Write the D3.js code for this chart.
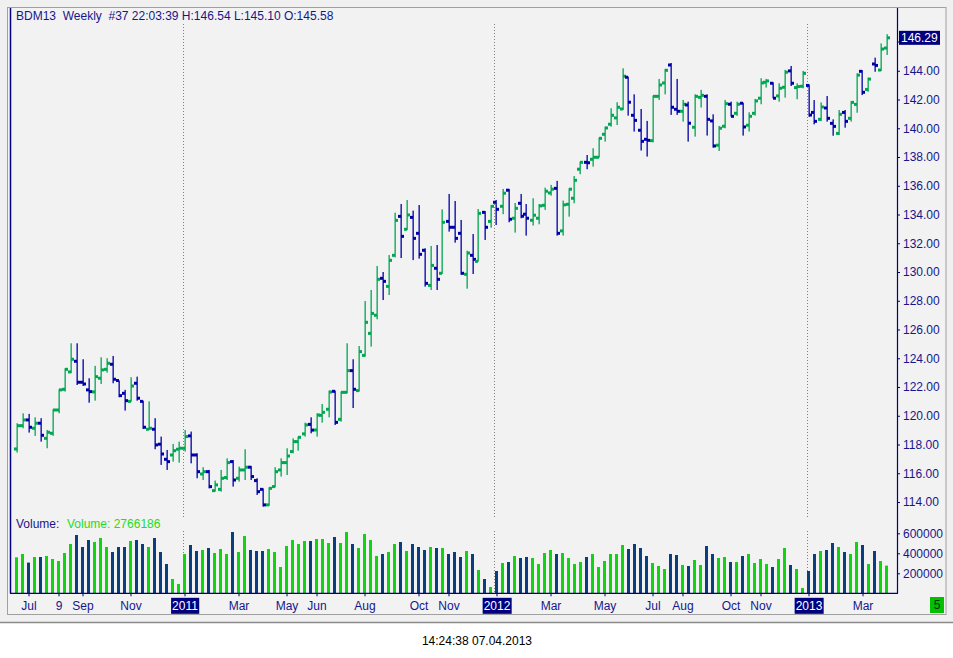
<!DOCTYPE html>
<html>
<head>
<meta charset="utf-8">
<script src="https://cdn.jsdelivr.net/npm/d3@7"></script>
<style>
  body { margin: 0; background: #fff; }
  text { font-family: "Liberation Sans", Arial, sans-serif; font-size: 12px; }
</style>
</head>
<body>
<div id="chart"></div>
<script>
// --- DATA (weekly OHLC + volume) ---
const opens = [
  117.69,119.31,119.71,119.13,119.48,118.43,118.78,120.40,121.84,123.05,
  123.79,122.33,121.80,121.66,122.61,123.23,123.58,122.45,121.56,121.00,
  122.26,121.00,119.06,119.06,118.02,116.97,117.27,117.67,117.74,118.60,
  117.27,115.95,116.11,114.79,114.88,115.70,116.81,115.65,116.23,116.42,
  115.49,114.88,113.80,115.07,116.23,116.74,117.51,118.20,118.74,119.40,
  119.01,120.03,120.45,121.70,119.75,121.63,123.14,121.75,124.20,125.73,
  126.99,129.56,129.00,131.16,133.87,132.97,133.80,132.69,131.51,129.07,
  130.26,129.91,133.52,133.11,132.69,129.84,131.16,130.74,134.15,133.52,
  134.85,134.57,135.69,133.74,134.78,134.02,133.60,133.74,134.64,135.50,
  135.82,132.86,134.71,135.13,137.15,137.63,137.84,137.98,139.58,140.28,
  140.72,141.34,143.55,140.90,139.86,139.23,139.14,142.22,143.15,144.40,
  141.32,141.18,141.62,140.07,142.15,142.22,140.51,138.82,140.14,141.67,
  141.04,141.74,140.21,141.04,142.09,143.20,143.13,142.25,142.85,143.99,
  142.83,142.92,142.98,141.10,140.62,141.41,140.34,139.64,141.10,140.69,
  141.66,143.96,142.70,144.47,144.05,145.58
];
const highs = [
  119.48,120.17,120.13,119.89,119.83,119.01,120.45,121.84,123.30,125.04,
  125.04,123.93,122.61,123.47,124.07,124.00,124.16,122.45,121.80,122.68,
  122.72,121.05,121.00,119.83,118.55,117.62,118.04,118.20,119.01,118.90,
  117.39,116.42,116.23,115.49,116.23,117.04,116.92,116.46,117.67,116.51,
  115.65,114.95,115.02,116.42,117.04,117.74,118.43,118.55,119.52,119.89,
  120.17,120.82,121.75,121.75,121.68,125.04,123.93,124.85,127.98,128.75,
  130.42,130.00,131.18,134.13,134.73,135.01,134.27,134.66,131.65,131.81,
  131.88,134.36,135.43,134.94,133.62,131.48,132.64,134.38,134.24,134.66,
  135.01,135.78,135.78,134.80,135.43,134.73,135.13,134.73,135.87,136.06,
  136.34,134.97,135.82,136.68,137.68,138.14,138.61,139.35,140.11,141.39,
  141.81,144.17,143.59,142.36,141.34,140.51,142.27,143.43,144.13,144.54,
  143.43,141.97,141.85,142.36,142.67,142.36,140.97,140.16,141.97,141.85,
  141.85,141.78,141.11,142.04,143.48,143.43,143.20,143.13,144.06,144.33,
  143.13,143.99,143.05,141.96,141.80,142.24,140.62,141.27,141.27,141.89,
  143.82,144.05,143.52,144.91,145.90,146.54
];
const lows = [
  117.44,119.13,118.83,118.60,118.20,117.74,118.60,120.17,121.68,122.96,
  122.14,122.07,120.91,121.05,122.21,123.00,122.26,121.29,120.36,120.98,
  121.05,119.08,119.01,117.67,116.58,116.23,116.81,116.74,117.51,116.69,
  115.65,115.53,114.95,114.72,114.72,115.53,115.07,115.42,115.53,115.53,
  114.49,113.68,113.73,115.02,115.77,115.88,117.39,117.57,118.55,118.78,
  118.55,119.52,119.89,119.36,119.59,121.56,120.54,121.68,124.11,124.81,
  126.71,128.05,128.40,131.02,130.97,132.92,130.83,130.93,128.98,128.75,
  128.75,129.86,132.81,132.04,129.81,128.84,129.86,130.72,132.23,133.08,
  133.27,134.02,133.46,132.74,133.74,132.53,133.23,133.32,134.32,135.31,
  132.53,132.53,133.85,134.78,136.80,137.15,137.33,137.96,139.07,140.11,
  140.23,141.27,140.88,139.77,138.45,138.03,139.02,141.97,142.36,140.93,
  140.93,140.46,139.07,139.42,141.44,139.49,138.65,138.42,140.00,140.81,
  140.86,139.49,139.77,140.88,141.67,142.83,142.09,141.85,142.13,142.94,
  142.02,142.78,140.80,140.27,140.50,140.46,139.48,139.53,140.04,140.46,
  141.08,142.31,142.54,143.93,143.98,145.10
];
const closes = [
  119.31,119.71,119.20,119.48,118.64,118.85,120.40,121.80,123.23,123.93,
  122.33,122.21,121.68,122.72,123.19,123.65,122.54,121.40,121.05,122.07,
  121.22,119.20,119.13,117.97,117.34,116.81,117.57,117.74,118.55,117.27,
  116.11,116.11,115.07,115.19,115.65,116.74,115.53,116.23,116.42,115.77,
  114.72,113.80,114.95,116.11,116.74,117.20,118.20,118.50,119.36,119.00,
  120.05,120.24,121.65,119.54,121.63,123.14,121.84,124.46,126.50,127.12,
  129.49,129.35,130.81,133.59,132.48,133.97,132.34,131.23,129.21,130.46,
  129.49,133.46,133.11,132.34,129.91,131.32,130.88,134.08,133.11,134.57,
  134.36,135.48,133.67,134.43,133.88,133.74,133.95,134.60,135.62,135.76,
  132.69,134.67,135.76,136.38,137.63,137.60,137.98,139.30,140.02,140.90,
  141.46,143.62,141.81,140.55,139.09,139.16,142.22,143.01,144.03,141.46,
  141.18,141.67,140.35,142.22,142.29,140.62,138.77,140.00,141.71,140.83,
  141.67,140.09,140.83,141.90,143.15,143.29,142.09,142.78,143.90,143.13,
  142.90,143.82,140.92,140.48,141.48,140.69,140.13,140.97,140.48,141.80,
  143.70,142.50,143.42,144.37,145.51,146.29
];
const volumes = [
  360000,393000,307000,363000,363000,373000,343000,323000,403000,493000,
  583000,463000,533000,513000,553000,463000,413000,463000,463000,523000,
  533000,493000,463000,553000,413000,293000,143000, 93000,393000,483000,
  423000,433000,453000,403000,443000,393000,613000,413000,573000,433000,
  423000,423000,443000,413000,263000,473000,533000,493000,523000,523000,
  543000,543000,503000,563000,503000,613000,493000,453000,593000,533000,
  373000,393000,413000,493000,513000,423000,493000,463000,433000,463000,
  453000,453000,393000,413000,363000,423000,393000,233000,143000, 63000,
  223000,303000,313000,373000,353000,363000,353000,293000,403000,433000,
  393000,403000,353000,293000,313000,363000,393000,263000,323000,393000,
  393000,483000,443000,493000,453000,373000,303000,273000,243000,393000,
  383000,283000,273000,333000,283000,473000,393000,353000,363000,313000,
  313000,373000,393000,303000,343000,293000,263000,343000,453000,283000,
  243000, 53000,223000,393000,423000,433000,503000,463000,413000,393000,
  513000,483000,293000,423000,323000,277000
];

// x axis labels (bar index -> text), year starts get the dark box
const tickIdx  = [2, 7, 11, 19, 28, 37, 45, 50, 58, 67, 72, 80, 89, 98, 106, 111, 119, 124, 132, 141];
const tickText = ['Jul','9','Sep','Nov','2011','Mar','May','Jun','Aug','Oct','Nov','2012','Mar','May','Jul','Aug','Oct','Nov','2013','Mar'];
const yearIdx  = [28, 80, 132];
const priceTicks  = d3.range(114, 145, 2);   // 146.00 sits under the last-price box
const volumeTicks = [200000, 400000, 600000];
const lastPrice = 146.29;

// --- CONFIG ---
const width = 953, height = 658;
const plotLeft = 10, plotRight = 897;
const priceTop = 42, priceBottom = 502;   // 146 -> 42, 114 -> 502
const volTop = 533.3, volBottom = 593.3;   // 600000 -> 533.3
const navy = '#000080', labelCol = '#16168c';
const upCol = '#00a651', downCol = '#0000a8';
const volUp = '#12d312', volDown = '#0b3e7e';

const svg = d3.select('#chart').append('svg')
  .attr('width', width).attr('height', height);

// --- FRAME / BACKGROUND ---
svg.append('rect').attr('x', 0).attr('y', 0).attr('width', width).attr('height', 622).attr('fill', '#f0f0f0');
svg.append('rect').attr('x', 7.5).attr('y', 7.5).attr('width', 938.5).attr('height', 607)
  .attr('fill', '#f2f2f2').attr('stroke', '#a0a0a0');
svg.append('line').attr('x1', 0).attr('x2', width).attr('y1', 622.5).attr('y2', 622.5)
  .attr('stroke', '#8a8a8a').attr('stroke-width', 1.5);

// --- SCALES ---
const x = d3.scaleLinear().domain([0, 145]).range([16.5, 886.5]);
const y = d3.scaleLinear().domain([114, 146]).range([priceBottom, priceTop]);
const yv = d3.scaleLinear().domain([0, 600000]).range([volBottom, volTop]);

const bars = opens.map((o, i) => ({
  i, o, h: highs[i], l: lows[i], c: closes[i], v: volumes[i], up: closes[i] >= o
}));

// --- YEAR SEPARATORS (dotted) ---
yearIdx.forEach(i => {
  const xx = Math.round(x(i) - 2) + 0.5;
  [[24, 517], [531, volBottom]].forEach(([a, b]) => {
    svg.append('line').attr('x1', xx).attr('x2', xx).attr('y1', a).attr('y2', b)
      .attr('stroke', '#808080').attr('stroke-dasharray', '1,2');
  });
});

// --- OHLC BARS ---
const g = svg.append('g');
const bar = g.selectAll('g.bar').data(bars).enter().append('g')
  .attr('class', 'bar')
  .attr('fill', d => d.up ? upCol : downCol);

bar.append('rect')
  .attr('x', d => Math.round(x(d.i)) - 0.5)
  .attr('width', 1.3)
  .attr('y', d => y(d.h))
  .attr('height', d => Math.max(1, y(d.l) - y(d.h)));
bar.append('rect')    // open tick (left)
  .attr('x', d => Math.round(x(d.i)) - 3)
  .attr('width', 3)
  .attr('y', d => y(d.o) - 1.5)
  .attr('height', 3);
bar.append('rect')    // close tick (right)
  .attr('x', d => Math.round(x(d.i)))
  .attr('width', 3)
  .attr('y', d => y(d.c) - 1.5)
  .attr('height', 3);

// --- VOLUME BARS ---
svg.append('g').selectAll('rect').data(bars).enter().append('rect')
  .attr('x', d => x(d.i) - 1.5)
  .attr('width', 3)
  .attr('y', d => yv(d.v))
  .attr('height', d => volBottom - yv(d.v))
  .attr('fill', d => d.up ? volUp : volDown);

// --- RIGHT AXES ---
const priceAxis = svg.append('g')
  .attr('transform', `translate(${plotRight},0)`)
  .call(d3.axisRight(y).tickValues(priceTicks).tickFormat(d3.format('.2f')).tickSize(3).tickPadding(3));
const volAxis = svg.append('g')
  .attr('transform', `translate(${plotRight},0)`)
  .call(d3.axisRight(yv).tickValues(volumeTicks).tickSize(3).tickPadding(3).tickFormat(d3.format('d')));
[priceAxis, volAxis].forEach(a => {
  a.select('.domain').remove();
  a.selectAll('line').attr('stroke', navy);
  a.selectAll('text').attr('fill', labelCol).style('font-size', '12px')
    .style('font-family', '"Liberation Sans", Arial, sans-serif');
});

// axis lines
svg.append('line').attr('x1', plotRight + 0.5).attr('x2', plotRight + 0.5).attr('y1', 8).attr('y2', volBottom)
  .attr('stroke', navy).attr('stroke-width', 1.2);
svg.append('line').attr('x1', plotLeft + 0.5).attr('x2', plotLeft + 0.5).attr('y1', 8).attr('y2', volBottom)
  .attr('stroke', navy).attr('stroke-width', 1.5);
svg.append('line').attr('x1', plotLeft).attr('x2', plotRight + 1).attr('y1', volBottom).attr('y2', volBottom)
  .attr('stroke', navy).attr('stroke-width', 1.2);

// last price box
svg.append('line').attr('x1', plotRight).attr('x2', plotRight + 3).attr('y1', y(146)).attr('y2', y(146))
  .attr('stroke', navy);
svg.append('rect').attr('x', 899).attr('y', y(lastPrice) - 7).attr('width', 41).attr('height', 14).attr('fill', navy);
svg.append('text').attr('x', 901).attr('y', y(lastPrice) + 4.5).attr('fill', '#fff').text(lastPrice.toFixed(2));

// --- BOTTOM AXIS ---
const xAxis = svg.append('g')
  .attr('transform', `translate(0,${volBottom})`)
  .call(d3.axisBottom(x).tickValues(tickIdx).tickSize(3).tickPadding(5)
    .tickFormat((d, k) => tickText[k]));
xAxis.select('.domain').remove();
xAxis.selectAll('line').attr('stroke', navy);
xAxis.selectAll('text').attr('fill', labelCol).style('font-size', '12px')
  .style('font-family', '"Liberation Sans", Arial, sans-serif');
xAxis.selectAll('.tick').filter(d => yearIdx.includes(d)).each(function() {
  const t = d3.select(this).select('text');
  const bb = t.node().getBBox();
  d3.select(this).insert('rect', 'text')
    .attr('x', bb.x - 1).attr('y', bb.y - 1).attr('width', bb.width + 2).attr('height', bb.height + 2)
    .attr('fill', navy);
  t.attr('fill', '#fff');
});

// --- TEXTS ---
svg.append('text').attr('x', 16).attr('y', 20).attr('fill', labelCol).style('white-space', 'pre')
  .text('BDM13  Weekly  #37 22:03:39 H:146.54 L:145.10 O:145.58');
svg.append('text').attr('x', 16).attr('y', 528).attr('fill', labelCol).text('Volume:');
svg.append('text').attr('x', 67).attr('y', 528).attr('fill', '#22dd22').text('Volume: 2766186');

svg.append('rect').attr('x', 930).attr('y', 597).attr('width', 14).attr('height', 16).attr('fill', '#00c000');
svg.append('text').attr('x', 937).attr('y', 609).attr('text-anchor', 'middle').attr('fill', '#003300').text('5');

svg.append('text').attr('x', 477).attr('y', 645).attr('text-anchor', 'middle').attr('fill', '#000')
  .text('14:24:38 07.04.2013');
</script>
</body>
</html>
